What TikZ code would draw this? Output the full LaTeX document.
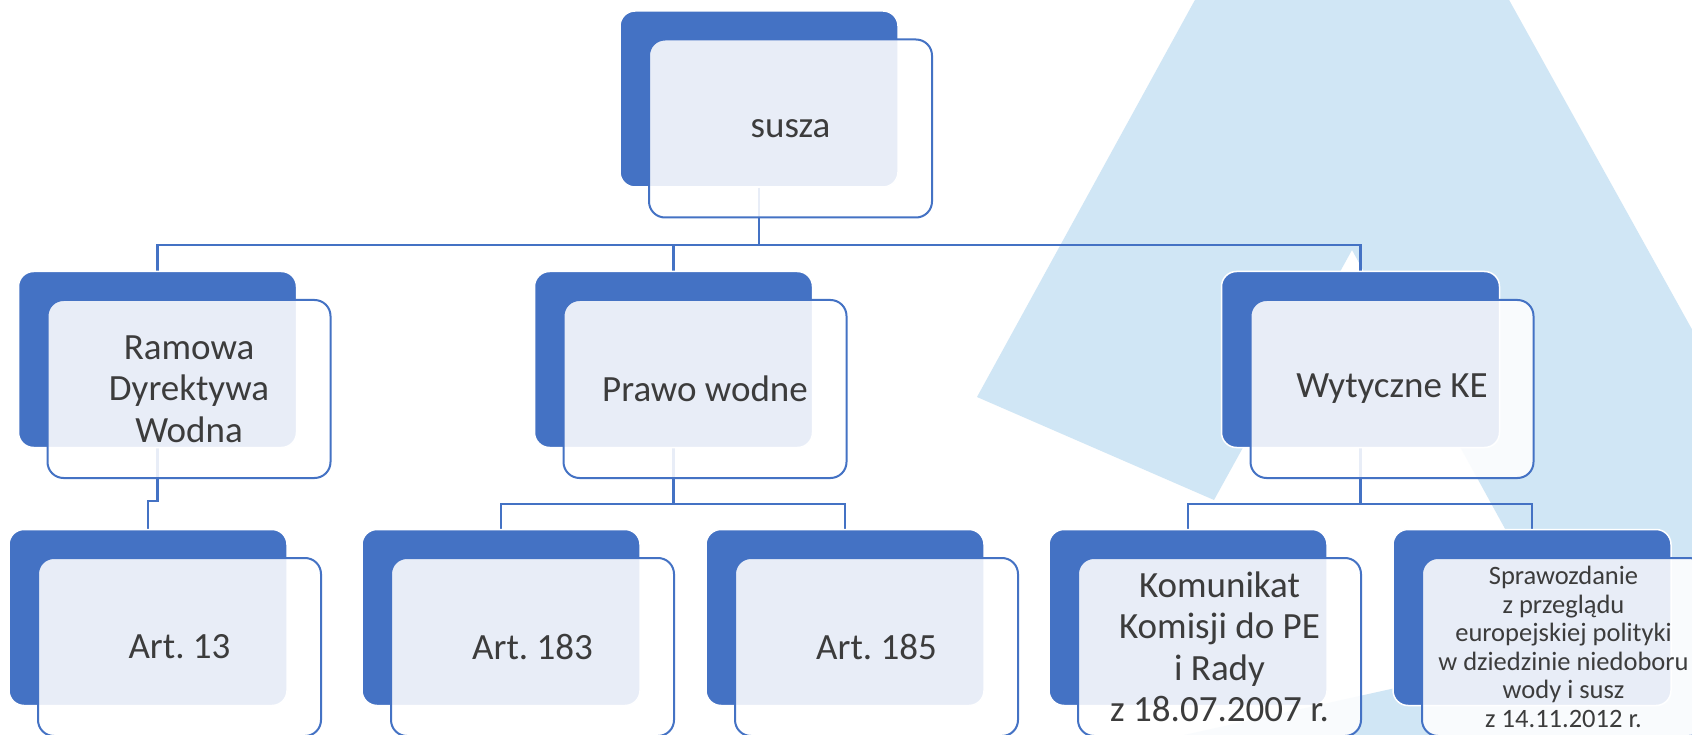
\documentclass[tikz,border=0pt]{standalone}
\usepackage{fontspec}
\setmainfont{Carlito}
\frenchspacing
\usetikzlibrary{calc}
\definecolor{accent}{HTML}{4472C4}
\definecolor{bgtri}{HTML}{D0E6F5}
\definecolor{txt}{HTML}{3C3C3C}
\pgfdeclarelayer{backdrop}
\pgfdeclarelayer{lines}
\pgfsetlayers{backdrop,lines,main}
\tikzset{
  backbox/.style={draw=white, line width=1.5pt, fill=accent, rounded corners=15pt,
    minimum width=278pt, minimum height=176pt, inner sep=0pt},
  frontbox/.style={draw=accent, line width=2pt, fill=white, fill opacity=0.88, text opacity=1,
    rounded corners=16pt, minimum width=283pt, minimum height=178pt, inner sep=0pt,
    align=center, text=txt, font=\fontsize{37}{41.5}\selectfont},
  smalltext/.style={font=\fontsize{26.5}{28.5}\selectfont},
  conn/.style={draw=accent, line width=2.2pt},
}
\begin{document}
\begin{tikzpicture}[x=1pt,y=-1pt]
\useasboundingbox (0,0) rectangle (1692,735);
\begin{pgfonlayer}{backdrop}
\fill[white] (0,0) rectangle (1692,735);
\fill[bgtri] (1196,-2) -- (1508,-2) -- (1694,333) -- (1694,737) -- (1175,737)
  -- (1571,649) -- (1352,250) -- (1214,500) -- (977,397) -- cycle;
\end{pgfonlayer}
% level 1
\node[backbox] (b0) at (759,99) {};
\node[frontbox] (f0) at (790.5,128.5) {susza};
% level 2
\node[backbox] (b1) at (157.5,359.5) {};
\node[frontbox] (f1) at (189,389) {Ramowa\\Dyrektywa\\Wodna};
\node[backbox] (b2) at (673.5,359.5) {};
\node[frontbox] (f2) at (705,389) {Prawo wodne};
\node[backbox] (b3) at (1360.5,359.5) {};
\node[frontbox] (f3) at (1392,389) {Wytyczne KE};
% level 3
\node[backbox] (b4) at (148,617.5) {};
\node[frontbox] (f4) at (179.5,647) {Art. 13};
\node[backbox] (b5) at (501,617.5) {};
\node[frontbox] (f5) at (532.5,647) {Art. 183};
\node[backbox] (b6) at (845,617.5) {};
\node[frontbox] (f6) at (876.5,647) {Art. 185};
\node[backbox] (b7) at (1188,617.5) {};
\node[frontbox] (f7) at (1219.5,647) {Komunikat\\Komisji do PE\\i Rady\\z 18.07.2007 r.};
\node[backbox] (b8) at (1532,617.5) {};
\node[frontbox,smalltext] (f8) at (1563.5,647) {Sprawozdanie\\z przeglądu\\europejskiej polityki\\w dziedzinie niedoboru\\wody i susz\\z 14.11.2012 r.};
\begin{pgfonlayer}{lines}
\coordinate (j0) at (759,245);
\draw[conn] (b0.south) -- (j0);
\draw[conn] (b1.north) |- (j0) -| (b3.north);
\draw[conn] (b2.north) -- (b2.north |- j0);
\coordinate (j1) at (157.5,501);
\draw[conn] (b1.south) -- (j1) -| (b4.north);
\coordinate (j2) at (673.5,504);
\draw[conn] (b2.south) -- (j2);
\draw[conn] (b5.north) |- (j2) -| (b6.north);
\coordinate (j3) at (1360.5,504);
\draw[conn] (b3.south) -- (j3);
\draw[conn] (b7.north) |- (j3) -| (b8.north);
\end{pgfonlayer}
\end{tikzpicture}
\end{document}
